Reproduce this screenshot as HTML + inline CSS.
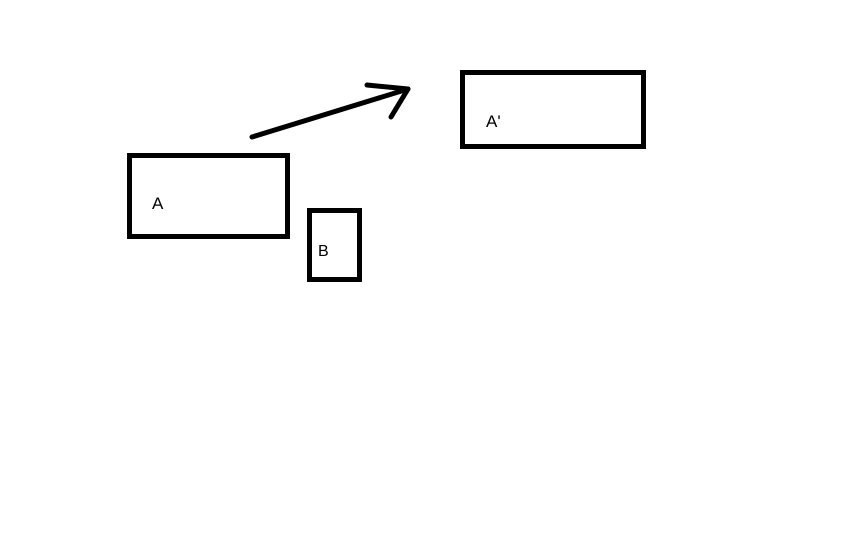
<!DOCTYPE html>
<html><head><meta charset="utf-8"><style>
html,body{margin:0;padding:0;background:#fff;width:864px;height:540px;overflow:hidden}
</style></head><body>
<svg width="864" height="540" xmlns="http://www.w3.org/2000/svg">
<rect width="864" height="540" fill="#fff"/>
<g fill="none" stroke="#000" stroke-width="5">
<rect x="129.5" y="155.5" width="158" height="81"/>
<rect x="309.5" y="210.5" width="50" height="69"/>
<rect x="462.5" y="72.5" width="181" height="74"/>
</g>
<g fill="none" stroke="#000" stroke-width="5" stroke-linecap="round" stroke-linejoin="round">
<path d="M252 137 L408 89"/>
<path d="M367 85 L408 89 L391 117"/>
</g>
<g font-family="Liberation Sans, sans-serif" font-size="17" fill="#000">
<text x="152" y="209">A</text>
<text x="318" y="256" font-size="16">B</text>
<text x="486" y="127">A'</text>
</g>
</svg>
</body></html>
